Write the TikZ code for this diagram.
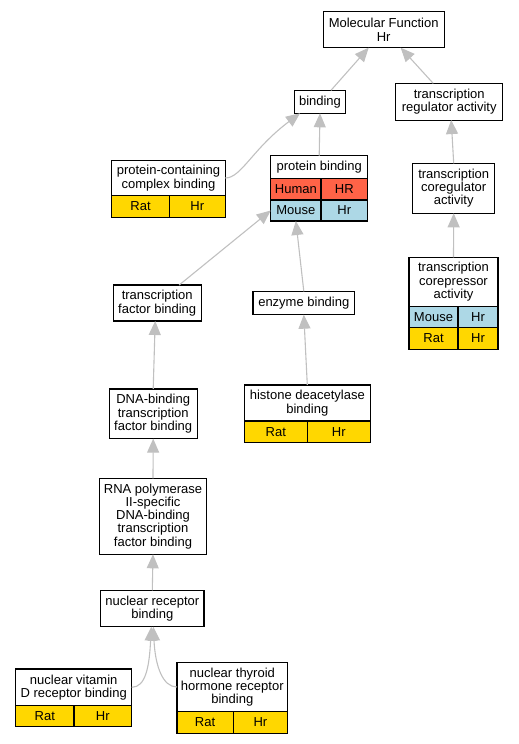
\documentclass[tikz,border=0pt]{standalone}
\usepackage{fontspec}
\setmainfont{Liberation Sans}
\usepackage{tikz}
\usepackage{xcolor}
\usetikzlibrary{arrows.meta, positioning, calc}
\definecolor{HumanRed}{HTML}{FF6347}
\definecolor{MouseBlue}{HTML}{ADD8E6}
\definecolor{RatGold}{HTML}{FFD700}
\definecolor{LinkGray}{HTML}{C0C0C0}
\newcommand{\gofont}{\fontsize{13}{13.3}\selectfont}

\tikzset{
  term/.style={draw=black, line width=1.1pt, fill=white, align=center,
               inner sep=0pt, outer sep=0pt, font=\gofont},
  cell/.style={draw=black, line width=1.1pt, inner sep=0pt, outer sep=0pt,
               font=\gofont, anchor=north west},
  link/.style={draw=LinkGray, line width=1.1pt,
               -{Triangle[length=14pt,width=12pt]}},
}

\begin{document}
\begin{tikzpicture}[x=1pt, y=-1pt]
\useasboundingbox (0,0) rectangle (519,744);

% terms
\node[term, minimum width=120.7pt, minimum height=36pt] (mf) at (383.7,29.7) {Molecular Function\\Hr};
\node[term, minimum width=51.4pt, minimum height=23pt] (binding) at (320,101.8) {binding};
\node[term, minimum width=107pt, minimum height=36.7pt] (txreg) at (449.2,101.7) {transcription\\regulator activity};

\node[term, minimum width=113.6pt, minimum height=35.7pt] (pcbind) at (168.5,178) {protein-containing\\complex binding};
\node[cell, fill=RatGold, minimum width=57.6pt, minimum height=21.3pt] (pcbind-rat) at (pcbind.south west) {Rat};
\node[cell, fill=RatGold, minimum width=56pt, minimum height=21.3pt] (pcbind-hr) at (pcbind-rat.north east) {Hr};

\node[term, minimum width=97pt, minimum height=22.6pt] (protbind) at (319.2,167) {protein binding};
\node[cell, fill=HumanRed, minimum width=50.3pt, minimum height=21.7pt] (protbind-human) at (protbind.south west) {Human};
\node[cell, fill=HumanRed, minimum width=46.7pt, minimum height=21.7pt] (protbind-hr1) at (protbind-human.north east) {HR};
\node[cell, fill=MouseBlue, minimum width=50.3pt, minimum height=21pt] (protbind-mouse) at (protbind-human.south west) {Mouse};
\node[cell, fill=MouseBlue, minimum width=46.7pt, minimum height=21pt] (protbind-hr2) at (protbind-mouse.north east) {Hr};

\node[term, minimum width=82pt, minimum height=50pt] (txcoreg) at (453.7,188.3) {transcription\\coregulator\\activity};

\node[term, minimum width=89pt, minimum height=48.7pt] (txcorep) at (453.5,281.7) {transcription\\corepressor\\activity};
\node[cell, fill=MouseBlue, minimum width=49pt, minimum height=21.3pt] (txcorep-mouse) at (txcorep.south west) {Mouse};
\node[cell, fill=MouseBlue, minimum width=40pt, minimum height=21.3pt] (txcorep-hr1) at (txcorep-mouse.north east) {Hr};
\node[cell, fill=RatGold, minimum width=49pt, minimum height=21.7pt] (txcorep-rat) at (txcorep-mouse.south west) {Rat};
\node[cell, fill=RatGold, minimum width=40pt, minimum height=21.7pt] (txcorep-hr2) at (txcorep-rat.north east) {Hr};

\node[term, minimum width=88.3pt, minimum height=36pt] (tfbind) at (157.2,303) {transcription\\factor binding};
\node[term, minimum width=101.7pt, minimum height=23.4pt] (enzbind) at (303.8,303) {enzyme binding};

\node[term, minimum width=126pt, minimum height=36pt] (hdacbind) at (307.3,403) {histone deacetylase\\binding};
\node[cell, fill=RatGold, minimum width=63pt, minimum height=21.3pt] (hdacbind-rat) at (hdacbind.south west) {Rat};
\node[cell, fill=RatGold, minimum width=63pt, minimum height=21.3pt] (hdacbind-hr) at (hdacbind-rat.north east) {Hr};

\node[term, minimum width=88.3pt, minimum height=49.7pt] (dnatf) at (153.2,413.8) {DNA-binding\\transcription\\factor binding};
\node[term, minimum width=107.4pt, minimum height=76pt] (rnapol) at (153,516.3) {RNA polymerase\\II-specific\\DNA-binding\\transcription\\factor binding};
\node[term, minimum width=103.3pt, minimum height=36.4pt] (nrbind) at (152.3,608.5) {nuclear receptor\\binding};

\node[term, minimum width=116pt, minimum height=36.7pt] (vdrbind) at (73.7,687.3) {nuclear vitamin\\D receptor binding};
\node[cell, fill=RatGold, minimum width=58.3pt, minimum height=21pt] (vdrbind-rat) at (vdrbind.south west) {Rat};
\node[cell, fill=RatGold, minimum width=57.7pt, minimum height=21pt] (vdrbind-hr) at (vdrbind-rat.north east) {Hr};

\node[term, minimum width=110.7pt, minimum height=49.4pt] (thrbind) at (232.3,687) {nuclear thyroid\\hormone receptor\\binding};
\node[cell, fill=RatGold, minimum width=56.3pt, minimum height=21.6pt] (thrbind-rat) at (thrbind.south west) {Rat};
\node[cell, fill=RatGold, minimum width=54.4pt, minimum height=21.6pt] (thrbind-hr) at (thrbind-rat.north east) {Hr};

% links
\draw[link] ([xshift=11pt]binding.north) -- ([xshift=-15pt]mf.south);
\draw[link] ([xshift=-16pt]txreg.north) -- ([xshift=17pt]mf.south);
\draw[link] (pcbind.east) .. controls +(16,0) and +(-48,36) .. ([xshift=-20pt]binding.south);
\draw[link] (protbind.north) -- (binding.south);
\draw[link] (txcoreg.north) -- ([xshift=2pt]txreg.south);
\draw[link] (txcorep.north) -- (txcoreg.north |- txcoreg.south);
\draw[link] ([xshift=22pt]tfbind.north) -- (protbind-mouse.west);
\draw[link] (enzbind.north) -- (protbind-mouse.south);
\draw[link] (hdacbind.north) -- (enzbind.south);
\draw[link] (dnatf.north) -- ([xshift=-2pt]tfbind.south);
\draw[link] (rnapol.north) -- (dnatf.south);
\draw[link] (nrbind.north) -- (rnapol.south);
\draw[link] (vdrbind.east) .. controls +(14,0) and +(-2,40) .. ([xshift=-1pt]nrbind.south);
\draw[link] (thrbind.west) .. controls +(-14,0) and +(2,40) .. ([xshift=1pt]nrbind.south);
\end{tikzpicture}
\end{document}
